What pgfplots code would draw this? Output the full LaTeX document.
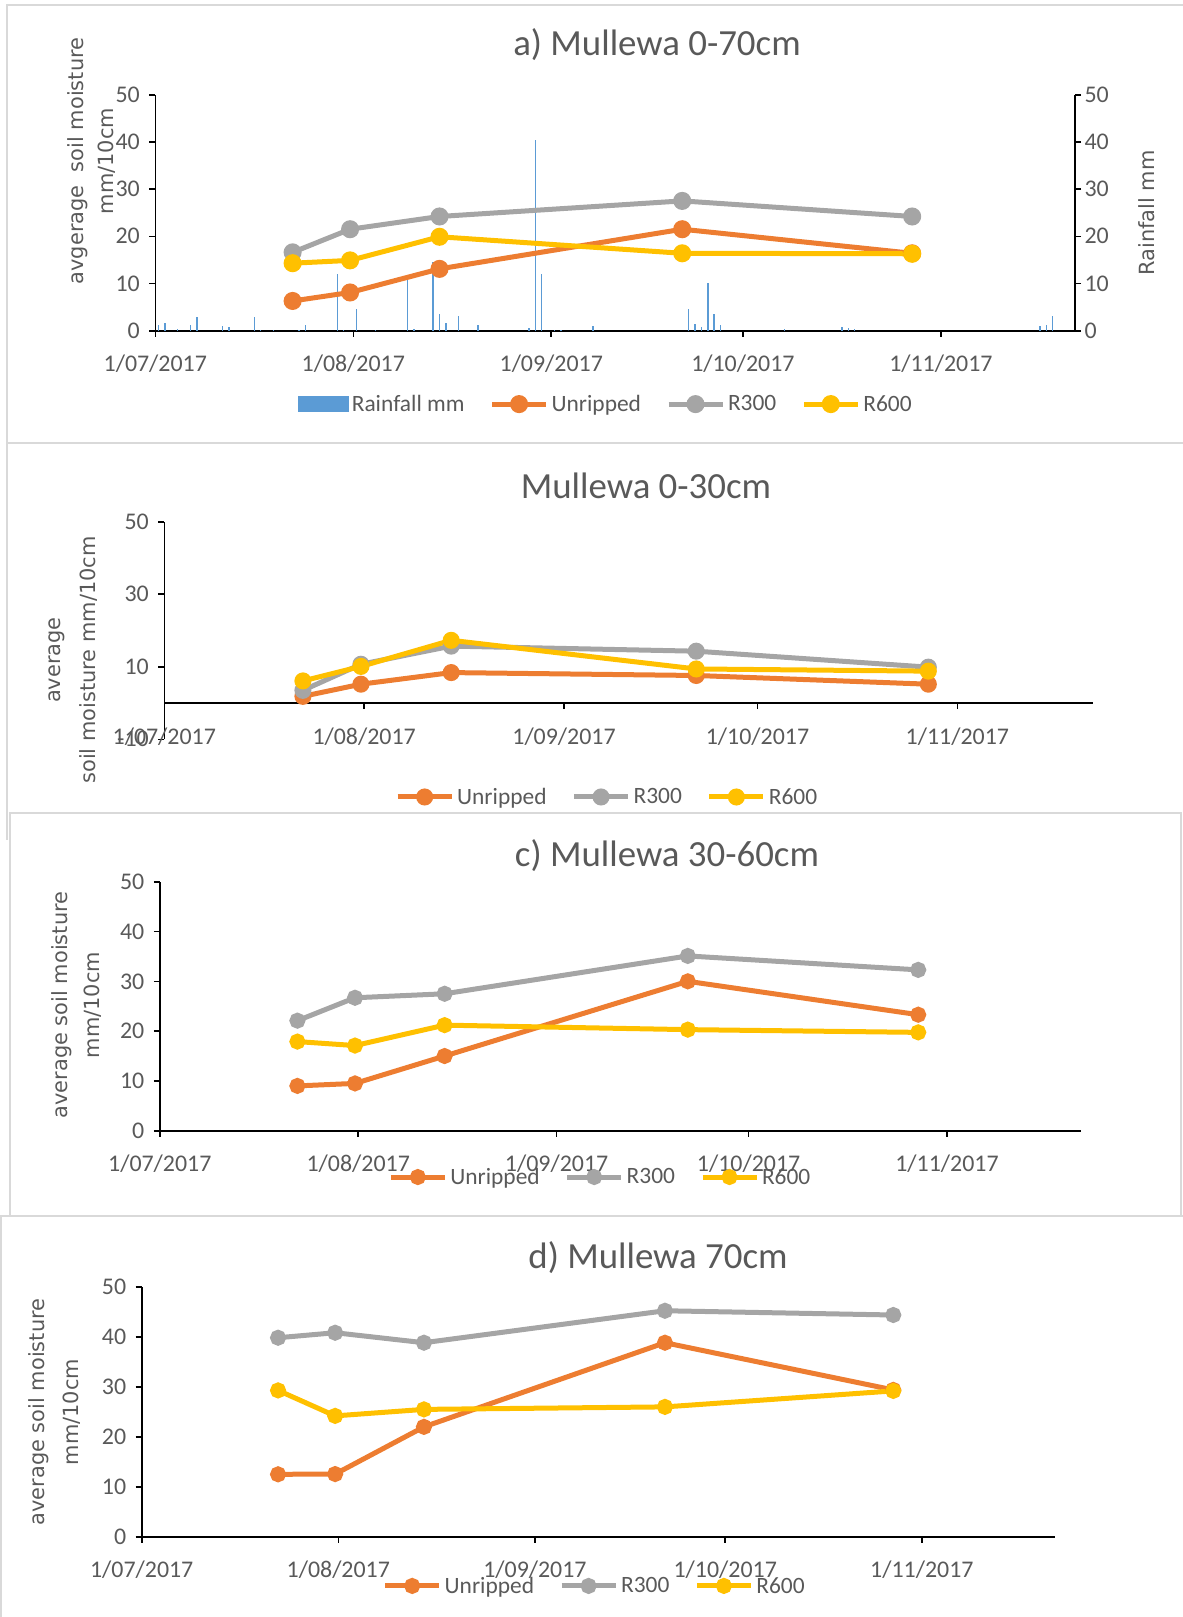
\documentclass[border=0pt]{standalone}
\usepackage{fontspec}
\setmainfont{Carlito}
\newfontfamily\labfont{DejaVu Sans}
\usepackage{pgfplots}
\pgfplotsset{compat=1.18}
\usepackage{pgfplotstable}

\definecolor{corange}{HTML}{ED7D31}
\definecolor{cgray}{HTML}{A5A5A5}
\definecolor{cyellow}{HTML}{FFC000}
\definecolor{cblue}{HTML}{5B9BD5}
\definecolor{txtgray}{HTML}{595959}
\definecolor{framecol}{HTML}{D9D9D9}

\pgfplotstableread{
day mm
0 1.3
1 1.6
3 0.3
5 1.2
6 2.8
10 1.0
11 0.8
15 2.9
16 0.1
18 0.1
22 0.2
23 1.2
28 12.1
29 0.1
31 4.6
34 0.1
39 10.7
40 0.4
43 14.5
44 3.5
45 1.6
47 3.2
50 1.3
58 0.6
59 40.3
60 12.1
62 0.1
63 0.1
68 1.0
83 4.6
84 1.4
85 0.8
86 10.1
87 3.5
88 1.2
98 0.3
107 0.8
108 0.5
109 0.3
138 1.0
139 1.3
140 3.1
}\rain

\pgfplotstableread{
day unr r300 r600
21 6.3 16.6 14.3
30 8.1 21.5 14.9
44 13.1 24.2 19.9
82 21.5 27.5 16.4
118 16.4 24.2 16.3
}\dataA

\pgfplotstableread{
day unr r300 r600
21 1.85 3.5 6.1
30 5.2 10.7 10.1
44 8.4 15.7 17.3
82 7.6 14.3 9.4
118 5.2 9.9 8.8
}\dataB

\pgfplotstableread{
day unr r300 r600
21 9.0 22.1 17.9
30 9.5 26.7 17.1
44 15.0 27.5 21.2
82 30.0 35.1 20.3
118 23.3 32.3 19.75
}\dataC

\pgfplotstableread{
day unr r300 r600
21 12.5 39.85 29.3
30 12.55 40.85 24.2
44 22.0 38.85 25.5
82 38.85 45.25 26.0
118 29.4 44.4 29.2
}\dataD

\pgfplotsset{
  soil/.style={
    scale only axis, anchor=south west,
    xmin=0, xmax=144,
    axis line style={line width=1.6bp, black},
    tick style={line width=1.6bp, black},
    major tick length=6bp,
    tick align=outside,
    xtick={0,31,62,92,123},
    xticklabels={1/07/2017,1/08/2017,1/09/2017,1/10/2017,1/11/2017},
    tick label style={font=\fontsize{24}{24}\selectfont, text=txtgray},
    xticklabel style={yshift=-15bp},
    yticklabel style={xshift=-6bp},
    /pgf/number format/assume math mode=true,
    legend style={draw=none, fill=none, legend columns=-1, anchor=center,
      font=\fontsize{23.5}{23.5}\selectfont, text=txtgray,
      /tikz/every even column/.append style={column sep=23bp},
      /tikz/every odd column/.append style={column sep=1bp}},
    legend image code/.code={\draw[mark repeat=2,mark phase=2,##1] plot coordinates {(0bp,0bp) (27bp,0bp) (54bp,0bp)};},
    clip=false,
  },
  unr/.style={color=corange, line width=#1, mark=*, mark options={solid}},
  rtf/.style={color=cgray, line width=#1, mark=*, mark options={solid}},
  rsx/.style={color=cyellow, line width=#1, mark=*, mark options={solid}},
}

\begin{document}
\begin{tikzpicture}[x=1bp,y=1bp]
\useasboundingbox (0,0) rectangle (1182,-1617);
% frames
\draw[framecol, line width=2bp] (1190,-5) -- (7,-5) -- (7,-840);
\draw[framecol, line width=2bp] (7,-443) -- (1190,-443);
\draw[framecol, line width=2bp] (10,-1216) -- (10,-813) -- (1181,-813) -- (1181,-1216);
\draw[framecol, line width=2bp] (0,-1216) -- (1190,-1216);
\draw[framecol, line width=2bp] (1,-1216) -- (1,-1620);

% ---------- panel a ----------
\begin{axis}[soil, at={(155.3bp,-330.7bp)}, width=919.7bp, height=236bp,
  ymin=0, ymax=50, ytick={0,10,...,50},
  axis y line*=left, axis x line*=bottom,
  legend style={at={(0.490,-0.311)}}]
\addplot[ycomb, draw=cblue, line width=1.5bp, no marks,
  legend image code/.code={\fill[cblue] (0bp,-7bp) rectangle (49bp,7bp);}]
  table[x expr=\thisrow{day}+0.5, y=mm] {\rain};
\addlegendentry{Rainfall mm}
\addplot[unr=5bp, mark size=6.5bp] table[x expr=\thisrow{day}+0.5, y=unr] {\dataA};
\addlegendentry{Unripped}
\addplot[rtf=5bp, mark size=6.5bp] table[x expr=\thisrow{day}+0.5, y=r300] {\dataA};
\addlegendentry{R300}
\addplot[rsx=5bp, mark size=6.5bp] table[x expr=\thisrow{day}+0.5, y=r600] {\dataA};
\addlegendentry{R600}
\end{axis}
\begin{axis}[soil, at={(155.3bp,-330.7bp)}, width=919.7bp, height=236bp,
  ymin=0, ymax=50, ytick={0,10,...,50},
  axis x line=none, axis y line*=right,
  yticklabel style={xshift=6bp}]
\end{axis}
\node[text=txtgray, font=\fontsize{37}{37}\selectfont] at (657,-45) {a) Mullewa 0-70cm};
\node[rotate=90, text=txtgray, font=\labfont\fontsize{21}{21}\selectfont] at (78,-161) {avgerage\ \ soil moisture};
\node[rotate=90, text=txtgray, font=\labfont\fontsize{21}{21}\selectfont] at (107,-161) {mm/10cm};
\node[rotate=90, text=txtgray, font=\labfont\fontsize{21}{21}\selectfont] at (1147,-213) {Rainfall mm};

% ---------- panel b ----------
\begin{axis}[soil, at={(164.3bp,-739.3bp)}, width=928.4bp, height=217.6bp,
  ymin=-10, ymax=50, ytick={-10,10,30,50},
  axis y line*=left, axis x line*=middle,
  hide obscured x ticks=false, hide obscured y ticks=false,
  legend style={at={(0.477,-0.265)}}]
\addplot[unr=5bp, mark size=6bp] table[x expr=\thisrow{day}+0.5, y=unr] {\dataB};
\addlegendentry{Unripped}
\addplot[rtf=5bp, mark size=6bp] table[x expr=\thisrow{day}+0.5, y=r300] {\dataB};
\addlegendentry{R300}
\addplot[rsx=5bp, mark size=6bp] table[x expr=\thisrow{day}+0.5, y=r600] {\dataB};
\addlegendentry{R600}
\end{axis}
\node[text=txtgray, font=\fontsize{37}{37}\selectfont] at (646,-486) {Mullewa 0-30cm};
\node[rotate=90, text=txtgray, font=\labfont\fontsize{21}{21}\selectfont] at (57,-660) {average};
\node[rotate=90, text=txtgray, font=\labfont\fontsize{21}{21}\selectfont] at (89,-660) {soil moisture mm/10cm};

% ---------- panel c ----------
\begin{axis}[soil, at={(159.8bp,-1130.7bp)}, width=921.6bp, height=249bp,
  ymin=0, ymax=50, ytick={0,10,...,50},
  axis y line*=left, axis x line*=bottom,
  legend style={at={(0.478,-0.186)}}]
\addplot[unr=5bp, mark size=5.5bp] table[x expr=\thisrow{day}+0.5, y=unr] {\dataC};
\addlegendentry{Unripped}
\addplot[rtf=5bp, mark size=5.5bp] table[x expr=\thisrow{day}+0.5, y=r300] {\dataC};
\addlegendentry{R300}
\addplot[rsx=5bp, mark size=5.5bp] table[x expr=\thisrow{day}+0.5, y=r600] {\dataC};
\addlegendentry{R600}
\end{axis}
\node[text=txtgray, font=\fontsize{37}{37}\selectfont] at (667,-856) {c) Mullewa 30-60cm};
\node[rotate=90, text=txtgray, font=\labfont\fontsize{21}{21}\selectfont] at (62,-1005) {average soil moisture};
\node[rotate=90, text=txtgray, font=\labfont\fontsize{21}{21}\selectfont] at (93,-1005) {mm/10cm};

% ---------- panel d ----------
\begin{axis}[soil, at={(141.7bp,-1536.7bp)}, width=913.3bp, height=249.7bp,
  ymin=0, ymax=50, ytick={0,10,...,50},
  axis y line*=left, axis x line*=bottom,
  legend style={at={(0.496,-0.197)}}]
\addplot[unr=5bp, mark size=5.5bp] table[x expr=\thisrow{day}+0.5, y=unr] {\dataD};
\addlegendentry{Unripped}
\addplot[rtf=5bp, mark size=5.5bp] table[x expr=\thisrow{day}+0.5, y=r300] {\dataD};
\addlegendentry{R300}
\addplot[rsx=5bp, mark size=5.5bp] table[x expr=\thisrow{day}+0.5, y=r600] {\dataD};
\addlegendentry{R600}
\end{axis}
\node[text=txtgray, font=\fontsize{37}{37}\selectfont] at (658,-1258) {d) Mullewa 70cm};
\node[rotate=90, text=txtgray, font=\labfont\fontsize{21}{21}\selectfont] at (39,-1412) {average soil moisture};
\node[rotate=90, text=txtgray, font=\labfont\fontsize{21}{21}\selectfont] at (72,-1412) {mm/10cm};
\end{tikzpicture}
\end{document}
